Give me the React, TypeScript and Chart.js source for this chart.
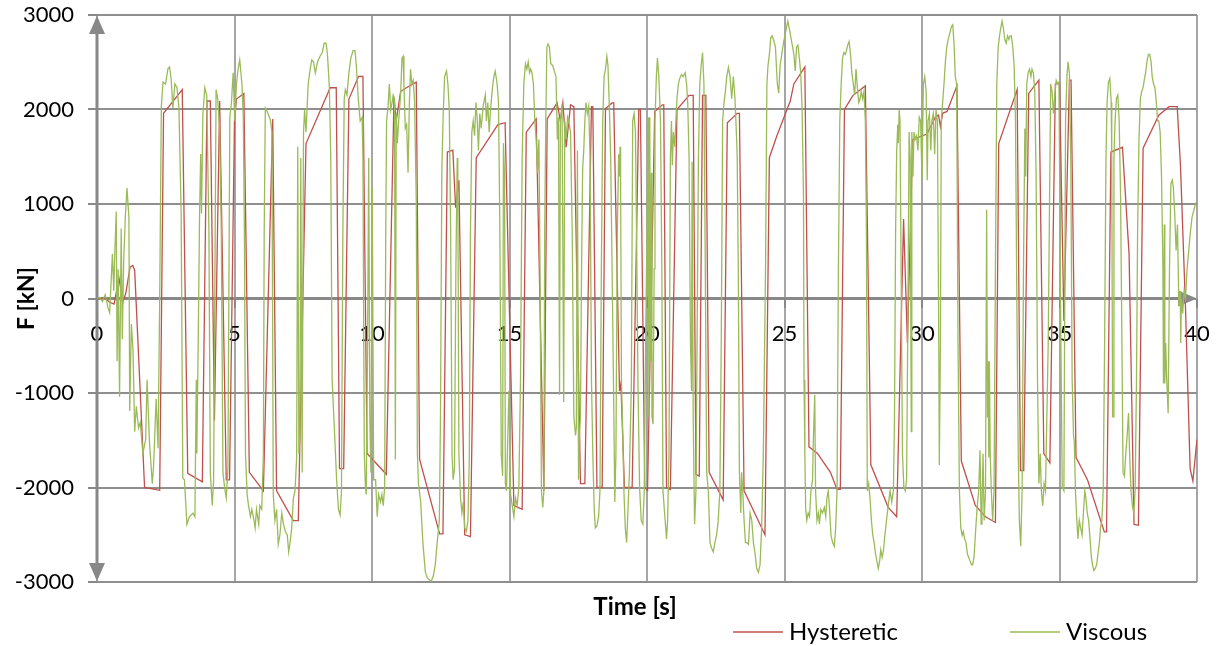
import React, { useEffect, useRef } from 'react';
import { Chart, registerables } from 'chart.js';

Chart.register(...registerables);

const FONT = 'Lato, "Open Sans", "DejaVu Sans", sans-serif';
const RED = '#C0504D';
const GREEN = '#9BBB59';

const seriesNames = ['Hysteretic', 'Viscous'];
const xTitle = 'Time [s]';
const yTitle = 'F [kN]';
const xRange = [0, 40];
const yRange = [-3000, 3000];
const xStep = 5;
const yStep = 1000;

// [time s, force kN]
const hysteretic: [number, number][] = [
  [0, 0], [0.3, 0], [0.46, -40], [0.62, -60], [0.8, 215], [0.94, -40], [1.05, 60], [1.2, 330], [1.3, 350], [1.37, 300],
  [1.73, -2000], [2.28, -2030], [2.42, 1960], [3.1, 2210], [3.3, -1850], [3.83, -1940], [4.0, 2090], [4.12, 2090],
  [4.27, -1290], [4.46, 2090], [4.7, -1920], [4.82, -1920], [5.0, 1880], [5.07, 2110], [5.34, 2170], [5.54, -1840],
  [6.05, -2035], [6.39, 1900], [6.53, -2035], [7.14, -2350], [7.32, -2350], [7.6, 1640], [8.48, 2230], [8.7, 2230],
  [8.82, -1800], [8.97, -1800], [9.16, 2110], [9.51, 2350], [9.67, 2350], [9.82, -1640], [10.52, -1860], [10.8, 2130],
  [10.88, 1880], [11.04, 2190], [11.25, 2230], [11.61, 2290], [11.73, -1700], [12.46, -2490], [12.58, -2490],
  [12.74, 1550], [12.94, 1570], [13.04, 960], [13.16, 1250], [13.37, -2500], [13.58, -2520], [13.79, 1490],
  [14.58, 1840], [14.84, 1860], [15.16, -2190], [15.46, -2230], [15.61, 1760], [15.97, 1900], [16.25, -2035],
  [16.37, 1900], [16.73, 2070], [16.85, 1880], [16.94, 2070], [17.06, 1600], [17.22, 2050], [17.34, 2030],
  [17.58, -1960], [17.74, -1960], [17.98, 2030], [18.03, 2030], [18.18, -2000], [18.37, -2000], [18.49, 2010],
  [18.73, 2070], [18.79, 2070], [19.0, -980], [19.05, -900], [19.18, -2000], [19.46, -2000], [19.7, 2000],
  [19.76, 2000], [19.92, -2000], [20.02, -2030], [20.28, 1980], [20.56, 2050], [20.61, 2050], [20.71, -2000],
  [20.85, -2020], [21.09, 2000], [21.53, 2150], [21.68, 2150], [21.78, -1860], [21.9, -1880], [22.02, 2150],
  [22.14, 2150], [22.26, -1840], [22.77, -2130], [22.92, 1860], [23.28, 1960], [23.36, 1960], [23.53, -2035],
  [24.29, -2500], [24.45, 1490], [24.72, 1720], [25.21, 2090], [25.34, 2270], [25.74, 2450], [25.89, -1570],
  [26.2, -1640], [26.67, -1840], [26.91, -2020], [27.03, -2020], [27.18, 2000], [27.49, 2150], [27.94, 2250],
  [28.14, -1760], [28.77, -2210], [29.08, -2310], [29.33, 840], [29.47, -470], [29.66, 1680], [30.18, 1740],
  [30.49, 1920], [30.6, 1940], [30.67, 1820], [30.75, 1960], [30.91, 1980], [31.27, 2250], [31.43, -1720],
  [31.94, -2190], [32.31, -2310], [32.67, -2370], [32.79, 1640], [33.46, 2210], [33.58, -1820], [33.7, -1820],
  [33.88, 2170], [34.25, 2310], [34.43, -1640], [34.65, -1740], [34.85, 2270], [35.0, 2280], [35.16, -235],
  [35.36, 2310], [35.42, 2310], [35.6, -1680], [36.02, -1920], [36.63, -2470], [36.71, -2470], [36.87, 1550],
  [37.29, 1600], [37.53, 470], [37.71, -2390], [37.87, -2400], [38.04, 1590], [38.61, 1940], [38.98, 2030],
  [39.28, 2030], [39.4, 1400], [39.58, -80], [39.75, -1800], [39.85, -1930], [40.0, -1490],
];

// [time s, force kN]
const viscous: [number, number][] = [
  [0, 0], [0.1, 10], [0.2, -30], [0.3, 40], [0.4, -100], [0.46, -150], [0.56, 470], [0.61, 80], [0.65, 510],
  [0.7, 920], [0.73, -665], [0.77, 310], [0.82, -1040], [0.88, 740], [0.92, -430], [0.97, 390], [1.03, 860],
  [1.09, 1170], [1.16, 860], [1.19, -1190], [1.25, -270], [1.31, -550], [1.37, -1410], [1.43, -1140], [1.51, -1370],
  [1.57, -1310], [1.67, -1640], [1.77, -1490], [1.82, -860], [1.91, -1530], [2.01, -1960], [2.06, -1760],
  [2.15, -1060], [2.22, -1585], [2.28, 0], [2.34, 2035], [2.4, 2290], [2.49, 2270], [2.58, 2430], [2.64, 2450],
  [2.7, 2310], [2.76, 2015], [2.83, 2270], [2.91, 2230], [2.98, 2015], [3.06, 900], [3.12, -1900], [3.18, -1920],
  [3.27, -2390], [3.36, -2310], [3.49, -2270], [3.56, -2310], [3.61, -860], [3.63, -1640], [3.68, -470], [3.73, 900],
  [3.77, 1530], [3.8, 900], [3.85, 1950], [3.92, 2230], [3.99, 2150], [4.07, 700], [4.12, -1840], [4.19, -2190],
  [4.24, -1920], [4.29, 310], [4.33, 2210], [4.39, 2110], [4.46, 1800], [4.52, 700], [4.58, -1840], [4.64, -2000],
  [4.7, -2110], [4.76, -1810],
  [4.83, 1918], [4.89, 2074], [4.95, 2388], [5.01, 1879], [5.07, 2270], [5.13, 2427], [5.19, 2525], [5.27, 2270],
  [5.32, 1918], [5.36, 705], [5.4, -1644], [5.46, -2074], [5.51, -2192], [5.58, -2309], [5.63, -2231], [5.71, -2348],
  [5.75, -2427], [5.8, -2231], [5.88, -2388], [5.92, -2192], [5.99, -2231], [6.05, -1644], [6.08, 705], [6.12, 2016],
  [6.19, 1977], [6.27, 1918], [6.31, 1879], [6.36, 1761], [6.41, -2074], [6.47, -2348], [6.53, -2231], [6.59, -2603],
  [6.65, -2505], [6.72, -2270], [6.78, -2388], [6.85, -2466], [6.92, -2505], [6.97, -2681], [7.02, -2583],
  [7.08, -2427], [7.14, -2114], [7.2, -2035], [7.26, -1683], [7.3, 1605], [7.34, -1644], [7.38, -1448], [7.41, 1487],
  [7.46, -1840], [7.51, 1761], [7.55, 1996], [7.6, 1761], [7.68, 2270], [7.75, 2427], [7.81, 2525], [7.87, 2505],
  [7.94, 2388], [8.02, 2505], [8.11, 2564], [8.19, 2603], [8.26, 2701], [8.33, 2701], [8.38, 2583], [8.45, 2231],
  [8.5, 1487], [8.55, -861], [8.6, -1174], [8.66, -1566], [8.72, -1957], [8.78, -2231], [8.84, -2290], [8.89, -2035],
  [8.94, 705], [8.99, 2114], [9.03, 2211], [9.09, 2153], [9.16, 2388], [9.23, 2544], [9.31, 2622], [9.38, 2622],
  [9.43, 2466], [9.5, 2114], [9.57, 1879], [9.64, 1918], [9.67, 1487], [9.72, -1644], [9.76, -1996], [9.79, -2074],
  [9.84, -470], [9.88, 1487], [9.92, -1252], [9.96, -1840], [10.01, 1174], [10.06, -1918],
  [10.13, -1918], [10.19, -2309], [10.24, -2074], [10.31, -2153], [10.36, -2074], [10.41, -2192], [10.46, -1996],
  [10.5, 705], [10.53, 1879], [10.58, 2016], [10.63, 2270], [10.68, 1996], [10.73, 2074], [10.77, 2153],
  [10.82, 2114], [10.85, -1703], [10.88, 1957], [10.92, 1644], [10.97, 1879], [11.04, 2153], [11.09, 2544],
  [11.13, 2564], [11.16, 2270], [11.21, 1800], [11.26, 1840], [11.31, 1331], [11.36, 2074], [11.4, 2427],
  [11.45, 2270], [11.5, 2309], [11.55, 2074], [11.61, 1018], [11.65, -1644], [11.69, -1957], [11.77, -2153],
  [11.85, -2583], [11.94, -2896], [12.01, -2955], [12.08, -2975], [12.15, -2995], [12.23, -2935], [12.3, -2818],
  [12.37, -2583], [12.45, -2348], [12.49, -1252], [12.54, 1370], [12.59, 1957], [12.64, 2348], [12.71, 2407],
  [12.76, 2270], [12.81, 1996], [12.86, 705], [12.91, -1644], [12.95, -1918], [13.0, -1800], [13.05, 313],
  [13.1, 1487], [13.12, 1292], [13.16, -1644], [13.22, -2114], [13.27, -2270], [13.32, -2153], [13.37, -2427],
  [13.43, -2466], [13.49, -2348], [13.54, -1644], [13.58, 705], [13.63, 1761], [13.68, 1879], [13.73, 1722],
  [13.78, 2074], [13.83, 1879], [13.87, 1566], [13.92, 1957], [13.97, 1800], [14.04, 2035], [14.12, 2153],
  [14.16, 1879], [14.21, 2074], [14.26, 1761], [14.31, 1996], [14.38, 2231], [14.43, 2348], [14.48, 2407],
  [14.55, 2270], [14.6, 2074], [14.65, 705], [14.7, -1644], [14.75, -1879], [14.78, 1644], [14.82, 1292],
  [14.85, -1957], [14.89, -2035],
  [14.98, -978], [15.04, -2074], [15.1, -2192], [15.16, -2309], [15.22, -2114], [15.28, -2192], [15.34, -1996],
  [15.4, -861], [15.46, 1487], [15.52, 2270], [15.58, 2485], [15.63, 2427], [15.68, 2505], [15.73, 2388],
  [15.77, 2427], [15.82, 2388], [15.87, 2270], [15.92, 1879], [15.97, 1683], [16.02, 1331], [16.07, 1683],
  [16.11, 313], [16.16, -2035], [16.21, -2211], [16.25, -2035], [16.28, 705], [16.32, 1879], [16.36, 2661],
  [16.4, 2693], [16.45, 2661], [16.5, 2485], [16.57, 2466], [16.65, 2388], [16.69, 2348], [16.74, 1683],
  [16.78, 1918], [16.82, -1018], [16.85, 1879], [16.91, 2055], [16.97, -1096], [17.01, 1879], [17.06, 1683],
  [17.11, 1918], [17.15, 1879], [17.22, 1761], [17.28, 705], [17.34, -1252], [17.4, -1448], [17.43, -1370],
  [17.47, 1566], [17.51, -1918], [17.54, -1448], [17.58, -1252], [17.62, 313], [17.66, 1370], [17.7, 1566],
  [17.74, 1879], [17.78, 2074], [17.83, 1957], [17.88, 2035], [17.93, 1487], [17.98, -861], [18.03, -1644],
  [18.08, -2231], [18.12, -2427], [18.18, -2407], [18.24, -2309], [18.29, -2035], [18.34, 313], [18.39, 1879],
  [18.44, 2348], [18.49, 2427], [18.54, 2564], [18.58, 2466], [18.63, 2035], [18.68, 1487], [18.73, 313],
  [18.78, -861], [18.83, -2153], [18.87, -1644], [18.92, 705], [18.97, 1526], [19.0, 1292], [19.02, 1605],
  [19.04, 1252], [19.07, -861], [19.12, -1448], [19.16, -2035], [19.21, -2427], [19.26, -2583], [19.31, -2231],
  [19.36, -1840], [19.43, -939], [19.48, 1879], [19.53, 1957], [19.58, 1761], [19.62, 705], [19.67, -861],
  [19.73, -1996], [19.79, -2348], [19.85, -2388], [19.9, -2035], [19.95, -470], [20.0, 705], [20.04, 1918],
  [20.07, -1252], [20.1, 1918], [20.13, -665], [20.16, 1331], [20.18, -1252], [20.22, -1331], [20.26, 313],
  [20.29, 1879], [20.34, 2348], [20.38, 2544], [20.43, 2348], [20.49, 1879], [20.54, 313], [20.58, -2035],
  [20.64, -2270], [20.71, -2544], [20.75, -2348], [20.8, -1644], [20.85, 1487], [20.89, 1879], [20.92, 1409],
  [20.96, 1761], [21.01, 1605], [21.05, 1879], [21.09, 2114], [21.14, 2270], [21.19, 2329], [21.25, 2368],
  [21.31, 2348], [21.39, 2388], [21.44, 2270], [21.48, 2074], [21.53, 1487], [21.58, -470], [21.62, -978],
  [21.64, 1448], [21.68, -1252], [21.73, -2388], [21.78, -2035], [21.82, -470], [21.87, 1487], [21.92, 2270],
  [21.97, 2466], [22.02, 2603], [22.07, 2270], [22.12, 313], [22.17, -1840], [22.23, -2035], [22.29, -2583],
  [22.35, -2642], [22.41, -2681], [22.47, -2583], [22.53, -2505], [22.59, -2348], [22.65, -2035], [22.7, -470],
  [22.75, 1879], [22.8, 2074], [22.85, 2192], [22.9, 2348], [22.96, 2446], [23.02, 2348], [23.08, 2114],
  [23.14, 2348], [23.2, 2114], [23.26, 1683], [23.28, 1487], [23.32, 313], [23.36, -1840], [23.41, -2270],
  [23.44, -1840], [23.48, -2035], [23.53, -2348], [23.58, -2583], [23.63, -2583], [23.69, -2603], [23.75, -2270],
  [23.81, -2348], [23.87, -2583], [23.93, -2701], [23.99, -2857], [24.05, -2896], [24.11, -2818], [24.17, -2427],
  [24.23, -1644], [24.31, 313], [24.36, 2270], [24.4, 2466], [24.45, 2583], [24.5, 2759], [24.55, 2779],
  [24.6, 2740], [24.67, 2661], [24.74, 2270], [24.79, 2172], [24.84, 2466], [24.9, 2583], [24.96, 2701],
  [25.04, 2818],
  [25.12, 2935], [25.2, 2818], [25.27, 2701], [25.34, 2583], [25.39, 2407], [25.44, 2661], [25.49, 2681],
  [25.54, 2544], [25.59, 2388], [25.64, 1996], [25.69, 1096], [25.71, -861], [25.74, -1644], [25.77, -2231],
  [25.81, -2348], [25.86, -2270], [25.91, -2309], [25.96, -2035], [26.02, -1918], [26.05, -1487], [26.1, -1018],
  [26.13, -2035], [26.18, -2348], [26.23, -2270], [26.27, -2388], [26.32, -2231], [26.38, -2270], [26.45, -2211],
  [26.5, -2309], [26.54, -2114], [26.59, -2035], [26.64, -2231], [26.69, -2505], [26.75, -2583], [26.81, -2622],
  [26.86, -2427], [26.91, -2035], [26.96, 313], [27.01, 1879], [27.06, 2270], [27.11, 2544], [27.16, 2603],
  [27.21, 2583], [27.25, 2622], [27.3, 2681], [27.35, 2720], [27.4, 2583], [27.45, 2388], [27.5, 2270],
  [27.55, 2153], [27.6, 2427], [27.65, 2231], [27.7, 2074], [27.75, 2114], [27.79, 2192], [27.84, 2114],
  [27.89, 2192], [27.94, 1879], [27.98, 705], [28.01, -2035], [28.06, -1957], [28.11, -2114], [28.16, -2348],
  [28.21, -2505], [28.26, -2583], [28.31, -2701], [28.36, -2779], [28.41, -2857], [28.46, -2779], [28.5, -2661],
  [28.55, -2740], [28.6, -2661], [28.65, -2505], [28.71, -2348], [28.77, -2192], [28.84, -2035], [28.9, -2153],
  [28.96, -2035], [29.0, -1252], [29.04, 705], [29.08, 1566], [29.12, 1840], [29.14, 1644], [29.17, 1996],
  [29.2, 1879], [29.24, 313], [29.29, -1644], [29.34, -1996], [29.39, -2035], [29.44, -1918], [29.49, -78],
  [29.53, 1761], [29.57, 1487], [29.61, -1409], [29.63, 1761], [29.67, 1292], [29.71, 1761], [29.75, 1683],
  [29.8, 1722], [29.85, 1566], [29.9, 1918], [29.95, 1879], [30.0, 1252],
  [30.05, 2270], [30.1, 2348], [30.15, 2192], [30.19, 1252], [30.22, 1879], [30.27, 1957], [30.32, 1566],
  [30.36, 1879], [30.41, 1957], [30.46, 1526], [30.51, 1996], [30.56, 1879], [30.61, -470], [30.63, -1761],
  [30.67, -470], [30.7, 1879], [30.75, 2074], [30.8, 2270], [30.85, 2505], [30.9, 2661], [30.95, 2740],
  [31.02, 2818], [31.07, 2877], [31.12, 2896], [31.17, 2661], [31.21, 2348], [31.26, 2270], [31.31, -470],
  [31.36, -2035], [31.41, -2427], [31.46, -2505], [31.5, -2466], [31.55, -2544], [31.6, -2583], [31.65, -2701],
  [31.7, -2740], [31.75, -2779], [31.8, -2818], [31.84, -2818], [31.89, -2740], [31.94, -2505], [32.0, -2231],
  [32.06, -2035], [32.11, -1605], [32.15, -2388], [32.18, -2231], [32.22, -1644], [32.26, -2348], [32.31, -2035],
  [32.35, 939], [32.38, -1252], [32.4, -665], [32.43, -1683], [32.45, -665], [32.48, -1644], [32.52, -2035],
  [32.57, -2348], [32.62, -2035], [32.67, 313], [32.72, 2270], [32.77, 2661], [32.82, 2779], [32.86, 2857],
  [32.91, 2935], [32.96, 2857], [33.01, 2740], [33.06, 2701], [33.11, 2779], [33.16, 2740], [33.2, 2779],
  [33.25, 2779], [33.3, 2661], [33.35, 2466], [33.4, 1879], [33.45, -78], [33.5, -1644], [33.54, -2348],
  [33.59, -2622], [33.64, -2035], [33.69, 313], [33.74, 1800], [33.77, 1292], [33.81, 2270], [33.86, 2388],
  [33.91, 2427], [33.96, 2348], [34.0, 2427], [34.05, 2388], [34.1, 2192], [34.15, 1292], [34.2, -861],
  [34.25, -1957], [34.3, -1644], [34.34, -2035], [34.39, -2192], [34.44, -1957], [34.49, -2035], [34.54, -1252],
  [34.59, -470], [34.64, 1096], [34.68, 2270], [34.73, 2192], [34.78, 1957], [34.83, 2153], [34.88, 2309],
  [34.93, 2270], [34.98, 2290], [35.05, -470], [35.1, -1996], [35.16, -2035],
  [35.22, 1879], [35.27, 2348], [35.31, 2505], [35.36, 2388], [35.41, 1487], [35.46, -861], [35.51, -1448],
  [35.54, -1526], [35.58, -2035], [35.63, -2348], [35.67, -2544], [35.72, -2348], [35.77, -2427], [35.82, -2505],
  [35.87, -2270], [35.92, -2035], [35.96, -2114], [36.01, -2270], [36.06, -2348], [36.11, -2544], [36.16, -2740],
  [36.2, -2818], [36.25, -2877], [36.3, -2857], [36.35, -2818], [36.4, -2701], [36.45, -2583], [36.49, -2427],
  [36.54, -2348], [36.59, -2035], [36.64, -470], [36.69, 1487], [36.73, 2074], [36.78, 2290], [36.83, 2329],
  [36.88, 2074], [36.9, 1487], [36.93, -1252], [36.95, -1252], [36.98, 1487], [37.02, 1879], [37.07, 2114],
  [37.12, 2153], [37.17, 1879], [37.22, 1096], [37.27, -470], [37.31, -1840], [37.36, -1879], [37.41, -1644],
  [37.46, -1448], [37.51, -1213], [37.55, -1644], [37.6, -2035], [37.65, -2192], [37.7, -2270], [37.75, -2035],
  [37.8, -861], [37.84, 705], [37.89, 1683], [37.94, 2114], [37.99, 2192], [38.04, 2231], [38.08, 2309],
  [38.13, 2388], [38.18, 2505], [38.23, 2583], [38.28, 2583], [38.33, 2505], [38.37, 2348], [38.42, 2270],
  [38.47, 2231], [38.52, 2074], [38.57, 1879], [38.61, 1879], [38.66, 1761], [38.71, 1292], [38.76, 313],
  [38.78, -900], [38.81, 783], [38.83, -900], [38.86, -470], [38.9, -861], [38.95, -1213], [39.0, 313],
  [39.05, 1213], [39.1, 1252], [39.14, 1174], [39.19, 900], [39.24, 509], [39.29, 783], [39.34, -78], [39.39, 78],
  [39.41, -470], [39.43, 0], [39.48, -157], [39.53, 78], [39.58, 0], [39.64, 313], [39.7, 509], [39.76, 705],
  [39.82, 861], [39.89, 939], [39.96, 1018],
];

const axisArrows = {
  id: 'axisArrows',
  beforeDatasetsDraw(chart: any) {
    const { ctx, chartArea, scales } = chart;
    const x0 = scales.x.getPixelForValue(0);
    const y0 = scales.y.getPixelForValue(0);
    ctx.save();
    ctx.strokeStyle = '#888888';
    ctx.fillStyle = '#888888';
    ctx.lineWidth = 3;
    ctx.beginPath();
    ctx.moveTo(x0, chartArea.top + 4);
    ctx.lineTo(x0, chartArea.bottom - 4);
    ctx.stroke();
    ctx.beginPath();
    ctx.moveTo(chartArea.left, y0);
    ctx.lineTo(chartArea.right - 6, y0);
    ctx.stroke();
    const tri = (pts: number[][]) => {
      ctx.beginPath();
      ctx.moveTo(pts[0][0], pts[0][1]);
      ctx.lineTo(pts[1][0], pts[1][1]);
      ctx.lineTo(pts[2][0], pts[2][1]);
      ctx.closePath();
      ctx.fill();
    };
    tri([[x0, chartArea.top + 1], [x0 - 8, chartArea.top + 19], [x0 + 8, chartArea.top + 19]]);
    tri([[x0, chartArea.bottom - 1], [x0 - 8, chartArea.bottom - 19], [x0 + 8, chartArea.bottom - 19]]);
    tri([[chartArea.right, y0], [chartArea.right - 19, y0 - 8], [chartArea.right - 19, y0 + 8]]);
    ctx.restore();
  },
  afterDraw(chart: any) {
    const { ctx } = chart;
    ctx.save();
    ctx.fillStyle = '#000';
    ctx.textBaseline = 'middle';
    ctx.textAlign = 'center';
    ctx.font = `bold 24px ${FONT}`;
    ctx.fillText(xTitle, 635, 607);
    ctx.textAlign = 'left';
    ctx.font = `24px ${FONT}`;
    const items = [
      { x: 733, color: RED, text: seriesNames[0] },
      { x: 1010, color: GREEN, text: seriesNames[1] },
    ];
    items.forEach((it) => {
      ctx.strokeStyle = it.color;
      ctx.lineWidth = 1.5;
      ctx.beginPath();
      ctx.moveTo(it.x, 632);
      ctx.lineTo(it.x + 50, 632);
      ctx.stroke();
      ctx.fillText(it.text, it.x + 56, 632);
    });
    ctx.restore();
  },
};

export default function App() {
  const ref = useRef<HTMLCanvasElement>(null);
  useEffect(() => {
    document.body.style.margin = '0';
    const chart = new Chart(ref.current as HTMLCanvasElement, {
      type: 'scatter',
      data: {
        datasets: [
          {
            label: seriesNames[1],
            data: viscous.map(([x, y]) => ({ x, y })),
            showLine: true,
            borderColor: GREEN,
            backgroundColor: GREEN,
            borderWidth: 1.3,
            pointRadius: 0,
            tension: 0,
            order: 0,
          },
          {
            label: seriesNames[0],
            data: hysteretic.map(([x, y]) => ({ x, y })),
            showLine: true,
            borderColor: RED,
            backgroundColor: RED,
            borderWidth: 1.3,
            pointRadius: 0,
            tension: 0,
            order: 1,
          },
        ],
      },
      options: {
        responsive: false,
        animation: false,
        devicePixelRatio: 1,
        layout: { padding: { left: 0, top: 15, right: 19, bottom: 64 } },
        plugins: { legend: { display: false }, tooltip: { enabled: false } },
        scales: {
          x: {
            type: 'linear',
            min: xRange[0],
            max: xRange[1],
            position: { y: 0 } as any,
            ticks: {
              stepSize: xStep,
              autoSkip: false,
              maxRotation: 0,
              padding: 13,
              color: '#000',
              font: { size: 22, family: FONT },
              callback: (v: any) => String(v),
            },
            grid: { color: '#a6a6a6', lineWidth: 2, drawTicks: true, tickLength: 9, tickColor: '#888888' },
            border: { display: false },
            afterFit: (s: any) => {
              s.height = 0;
              s.paddingLeft = 0;
              s.paddingRight = 0;
              s.paddingTop = 0;
              s.paddingBottom = 0;
            },
          },
          y: {
            type: 'linear',
            min: yRange[0],
            max: yRange[1],
            ticks: {
              stepSize: yStep,
              padding: 14,
              color: '#000',
              font: { size: 22, family: FONT },
              callback: (v: any) => String(v),
            },
            grid: { color: '#8f8f8f', lineWidth: 2, drawTicks: true, tickLength: 9, tickColor: '#888888' },
            border: { display: false },
            title: {
              display: true,
              text: yTitle,
              color: '#000',
              font: { size: 23, weight: 'bold', family: FONT },
              padding: { top: 13, bottom: 0 },
            },
            afterFit: (s: any) => {
              s.width = 97;
              s.paddingTop = 0;
              s.paddingBottom = 0;
              s.paddingLeft = 0;
              s.paddingRight = 0;
            },
          },
        },
      },
      plugins: [axisArrows],
    });
    return () => chart.destroy();
  }, []);
  return (
    <div style={{ position: 'absolute', left: 0, top: 0, width: 1216, height: 646, background: '#fff' }}>
      <canvas ref={ref} width={1216} height={646} style={{ display: 'block' }} />
    </div>
  );
}
